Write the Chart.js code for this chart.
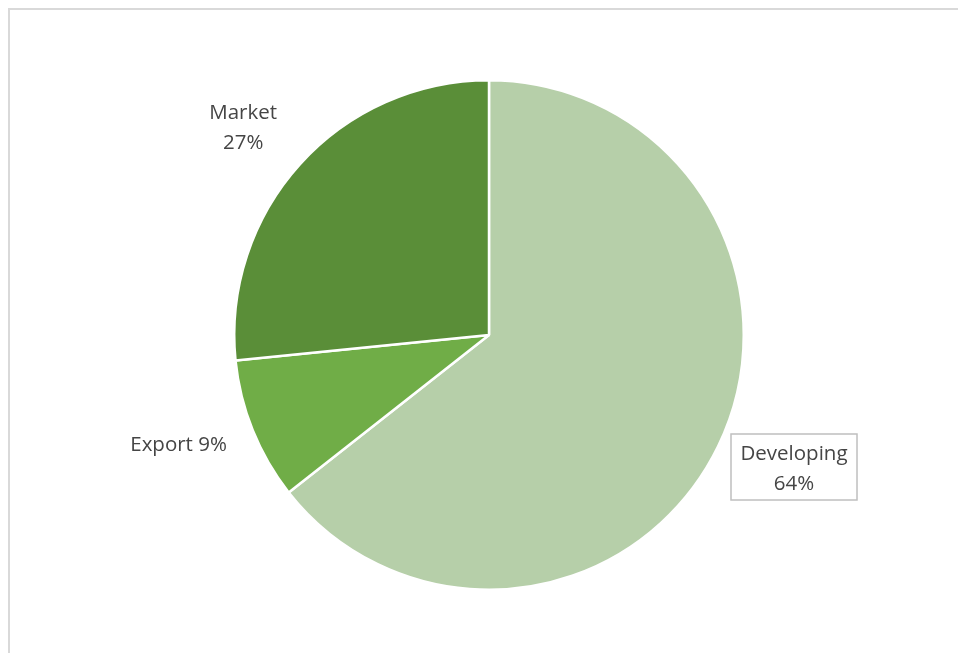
<!DOCTYPE html>
<html>
<head>
<meta charset="utf-8">
<script src="https://cdn.jsdelivr.net/npm/chart.js@4.4.1/dist/chart.umd.min.js"></script>
<style>
  html, body { margin: 0; padding: 0; background: #fff; overflow: hidden; }
  #frame { position: absolute; left: 8px; top: 8px; width: 1000px; height: 700px;
           border-top: 2px solid #d9d9d9; border-left: 2px solid #d9d9d9; }
  #wrap { position: absolute; left: 0; top: 0; width: 958px; height: 653px; }
</style>
</head>
<body>
<div id="frame"></div>
<div id="wrap"><canvas id="pieChart"></canvas></div>
<script>
var categories = ['Developing', 'Export', 'Market'];
var shares = [64.4, 9.0, 26.6];
var sliceColors = ['#b6cfa9', '#70ad47', '#5a8e38'];

// labels drawn outside each slice, at the slice's mid angle
var outsideLabels = {
    id: 'outsideLabels',
    afterDatasetsDraw: function (chart) {
        var ctx = chart.ctx;
        var meta = chart.getDatasetMeta(0);
        ctx.save();
        ctx.font = '20.5px "Open Sans", "Noto Sans", sans-serif';
        ctx.fillStyle = '#454545';
        ctx.textAlign = 'center';
        ctx.textBaseline = 'middle';
        meta.data.forEach(function (arc, i) {
            var p = arc.getProps(['x', 'y', 'startAngle', 'endAngle', 'outerRadius'], true);
            var mid = (p.startAngle + p.endAngle) / 2;
            var dist = p.outerRadius * 1.28;
            var cx = p.x + Math.cos(mid) * dist;
            var cy = p.y + Math.sin(mid) * dist;
            var pct = Math.round(shares[i]) + '%';
            if (categories[i] === 'Export') {
                ctx.fillText(categories[i] + ' ' + pct, cx - 8, cy - 12);
            } else if (categories[i] === 'Developing') {
                cx = 794; cy = 467;
                ctx.fillStyle = '#fff';
                ctx.fillRect(cx - 63, cy - 33, 126, 66);
                ctx.strokeStyle = '#bfbfbf';
                ctx.lineWidth = 1.5;
                ctx.strokeRect(cx - 63, cy - 33, 126, 66);
                ctx.fillStyle = '#454545';
                ctx.fillText(categories[i], cx, cy - 13);
                ctx.fillText(pct, cx, cy + 17);
            } else {
                ctx.fillText(categories[i], cx - 4, cy - 3);
                ctx.fillText(pct, cx - 4, cy + 27);
            }
        });
        ctx.restore();
    }
};

var ctx = document.getElementById('pieChart').getContext('2d');
var myChart = new Chart(ctx, {
    type: 'pie',
    data: {
        labels: categories,
        datasets: [{
            data: shares,
            backgroundColor: sliceColors,
            borderColor: '#ffffff',
            borderWidth: 2.5
        }]
    },
    options: {
        responsive: true,
        maintainAspectRatio: false,
        animation: false,
        layout: { padding: { left: 233, right: 213, top: 79, bottom: 62 } },
        plugins: {
            legend: { display: false },
            tooltip: { enabled: false }
        }
    },
    plugins: [outsideLabels]
});
</script>
</body>
</html>
